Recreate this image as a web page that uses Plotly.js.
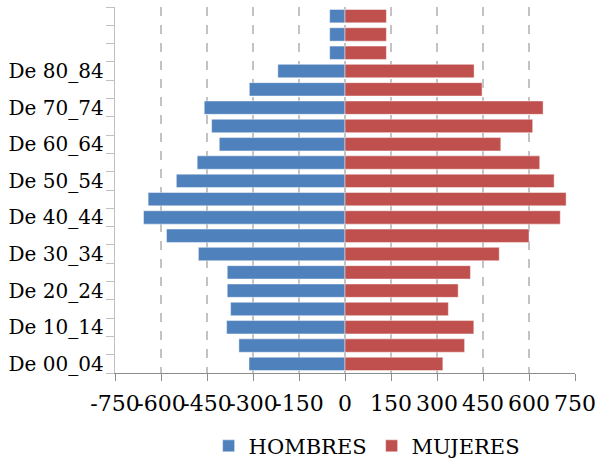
<!DOCTYPE html>
<html>
<head>
<meta charset="utf-8">
<script src="https://cdn.plot.ly/plotly-3.0.1.min.js"></script>
<style>
  html, body { margin: 0; padding: 0; background: #ffffff; }
  #chart { width: 597px; height: 464px; }
</style>
</head>
<body>
<div id="chart"></div>
<script>
// Age groups, youngest first
const categories = [
  "De 00_04", "De 05_09", "De 10_14", "De 15_19", "De 20_24",
  "De 25_29", "De 30_34", "De 35_39", "De 40_44", "De 45_49",
  "De 50_54", "De 55_59", "De 60_64", "De 65_69", "De 70_74",
  "De 75_79", "De 80_84", "De 85_89", "De 90_94", "De 95_99"
];

// Men are plotted to the left (negative), women to the right
const hombres = [-313, -346, -386, -373, -384, -384, -478, -582, -657, -642,
                 -550, -482, -410, -435, -459, -312, -219, -50, -50, -50];
const mujeres = [319, 390, 420, 337, 369, 409, 503, 600, 702, 721,
                 682, 635, 508, 612, 646, 447, 421, 135, 135, 135];

// Category labels printed on the vertical axis (blank = tick only)
const yTickLabels = [
  "De 00_04", "", "De 10_14", "", "De 20_24", "", "De 30_34", "", "De 40_44", "",
  "De 50_54", "", "De 60_64", "", "De 70_74", "", "De 80_84", "", "", ""
];

// Horizontal scale ticks
const xTickVals = [-750, -600, -450, -300, -150, 0, 150, 300, 450, 600, 750];
const xTickText = ["-750", "-600", "-450", "-300", "-150", "0", "150", "300", "450", "600", "750"];

const FONT = "DejaVu Serif";

const traces = [
  {
    type: "bar",
    orientation: "h",
    name: "HOMBRES",
    y: categories,
    x: hombres,
    marker: { color: "#4F81BD", line: { color: "rgba(255,255,255,0.45)", width: 1 } },
    hoverinfo: "skip"
  },
  {
    type: "bar",
    orientation: "h",
    name: "MUJERES",
    y: categories,
    x: mujeres,
    marker: { color: "#C0504D", line: { color: "rgba(255,255,255,0.45)", width: 1 } },
    hoverinfo: "skip"
  }
];

const layout = {
  width: 597,
  height: 464,
  margin: { l: 115, r: 22, t: 7, b: 91, autoexpand: false },
  paper_bgcolor: "#ffffff",
  plot_bgcolor: "#ffffff",
  barmode: "relative",
  bargap: 0.27,
  font: { family: FONT, color: "#000000" },
  showlegend: true,
  legend: {
    orientation: "h",
    x: 0.547,
    xanchor: "center",
    y: -0.2,
    yanchor: "middle",
    traceorder: "normal",
    itemwidth: 30,
    font: { family: FONT, size: 21, color: "#000000" }
  },
  xaxis: {
    range: [-750, 750],
    tickmode: "array",
    tickvals: xTickVals,
    ticktext: xTickText,
    tickangle: 0,
    tickfont: { family: FONT, size: 22, color: "#000000" },
    ticks: "outside",
    ticklen: 7,
    tickcolor: "#8c8c8c",
    ticklabelstandoff: 3,
    showline: true,
    linecolor: "#8c8c8c",
    linewidth: 1.3,
    showgrid: true,
    gridcolor: "#c3c3c3",
    gridwidth: 1.3,
    griddash: "dash",
    zeroline: false,
    fixedrange: true
  },
  yaxis: {
    type: "category",
    categoryorder: "array",
    categoryarray: categories,
    tickmode: "array",
    tickvals: categories,
    ticktext: yTickLabels,
    tickson: "boundaries",
    ticks: "outside",
    ticklen: 8,
    tickcolor: "#c0c0c0",
    ticklabelstandoff: 6,
    tickfont: { family: FONT, size: 20, color: "#000000" },
    showline: true,
    linecolor: "#c0c0c0",
    linewidth: 1.3,
    showgrid: false,
    zeroline: false,
    fixedrange: true
  }
};

Plotly.newPlot("chart", traces, layout, { displayModeBar: false, staticPlot: true });
</script>
</body>
</html>
